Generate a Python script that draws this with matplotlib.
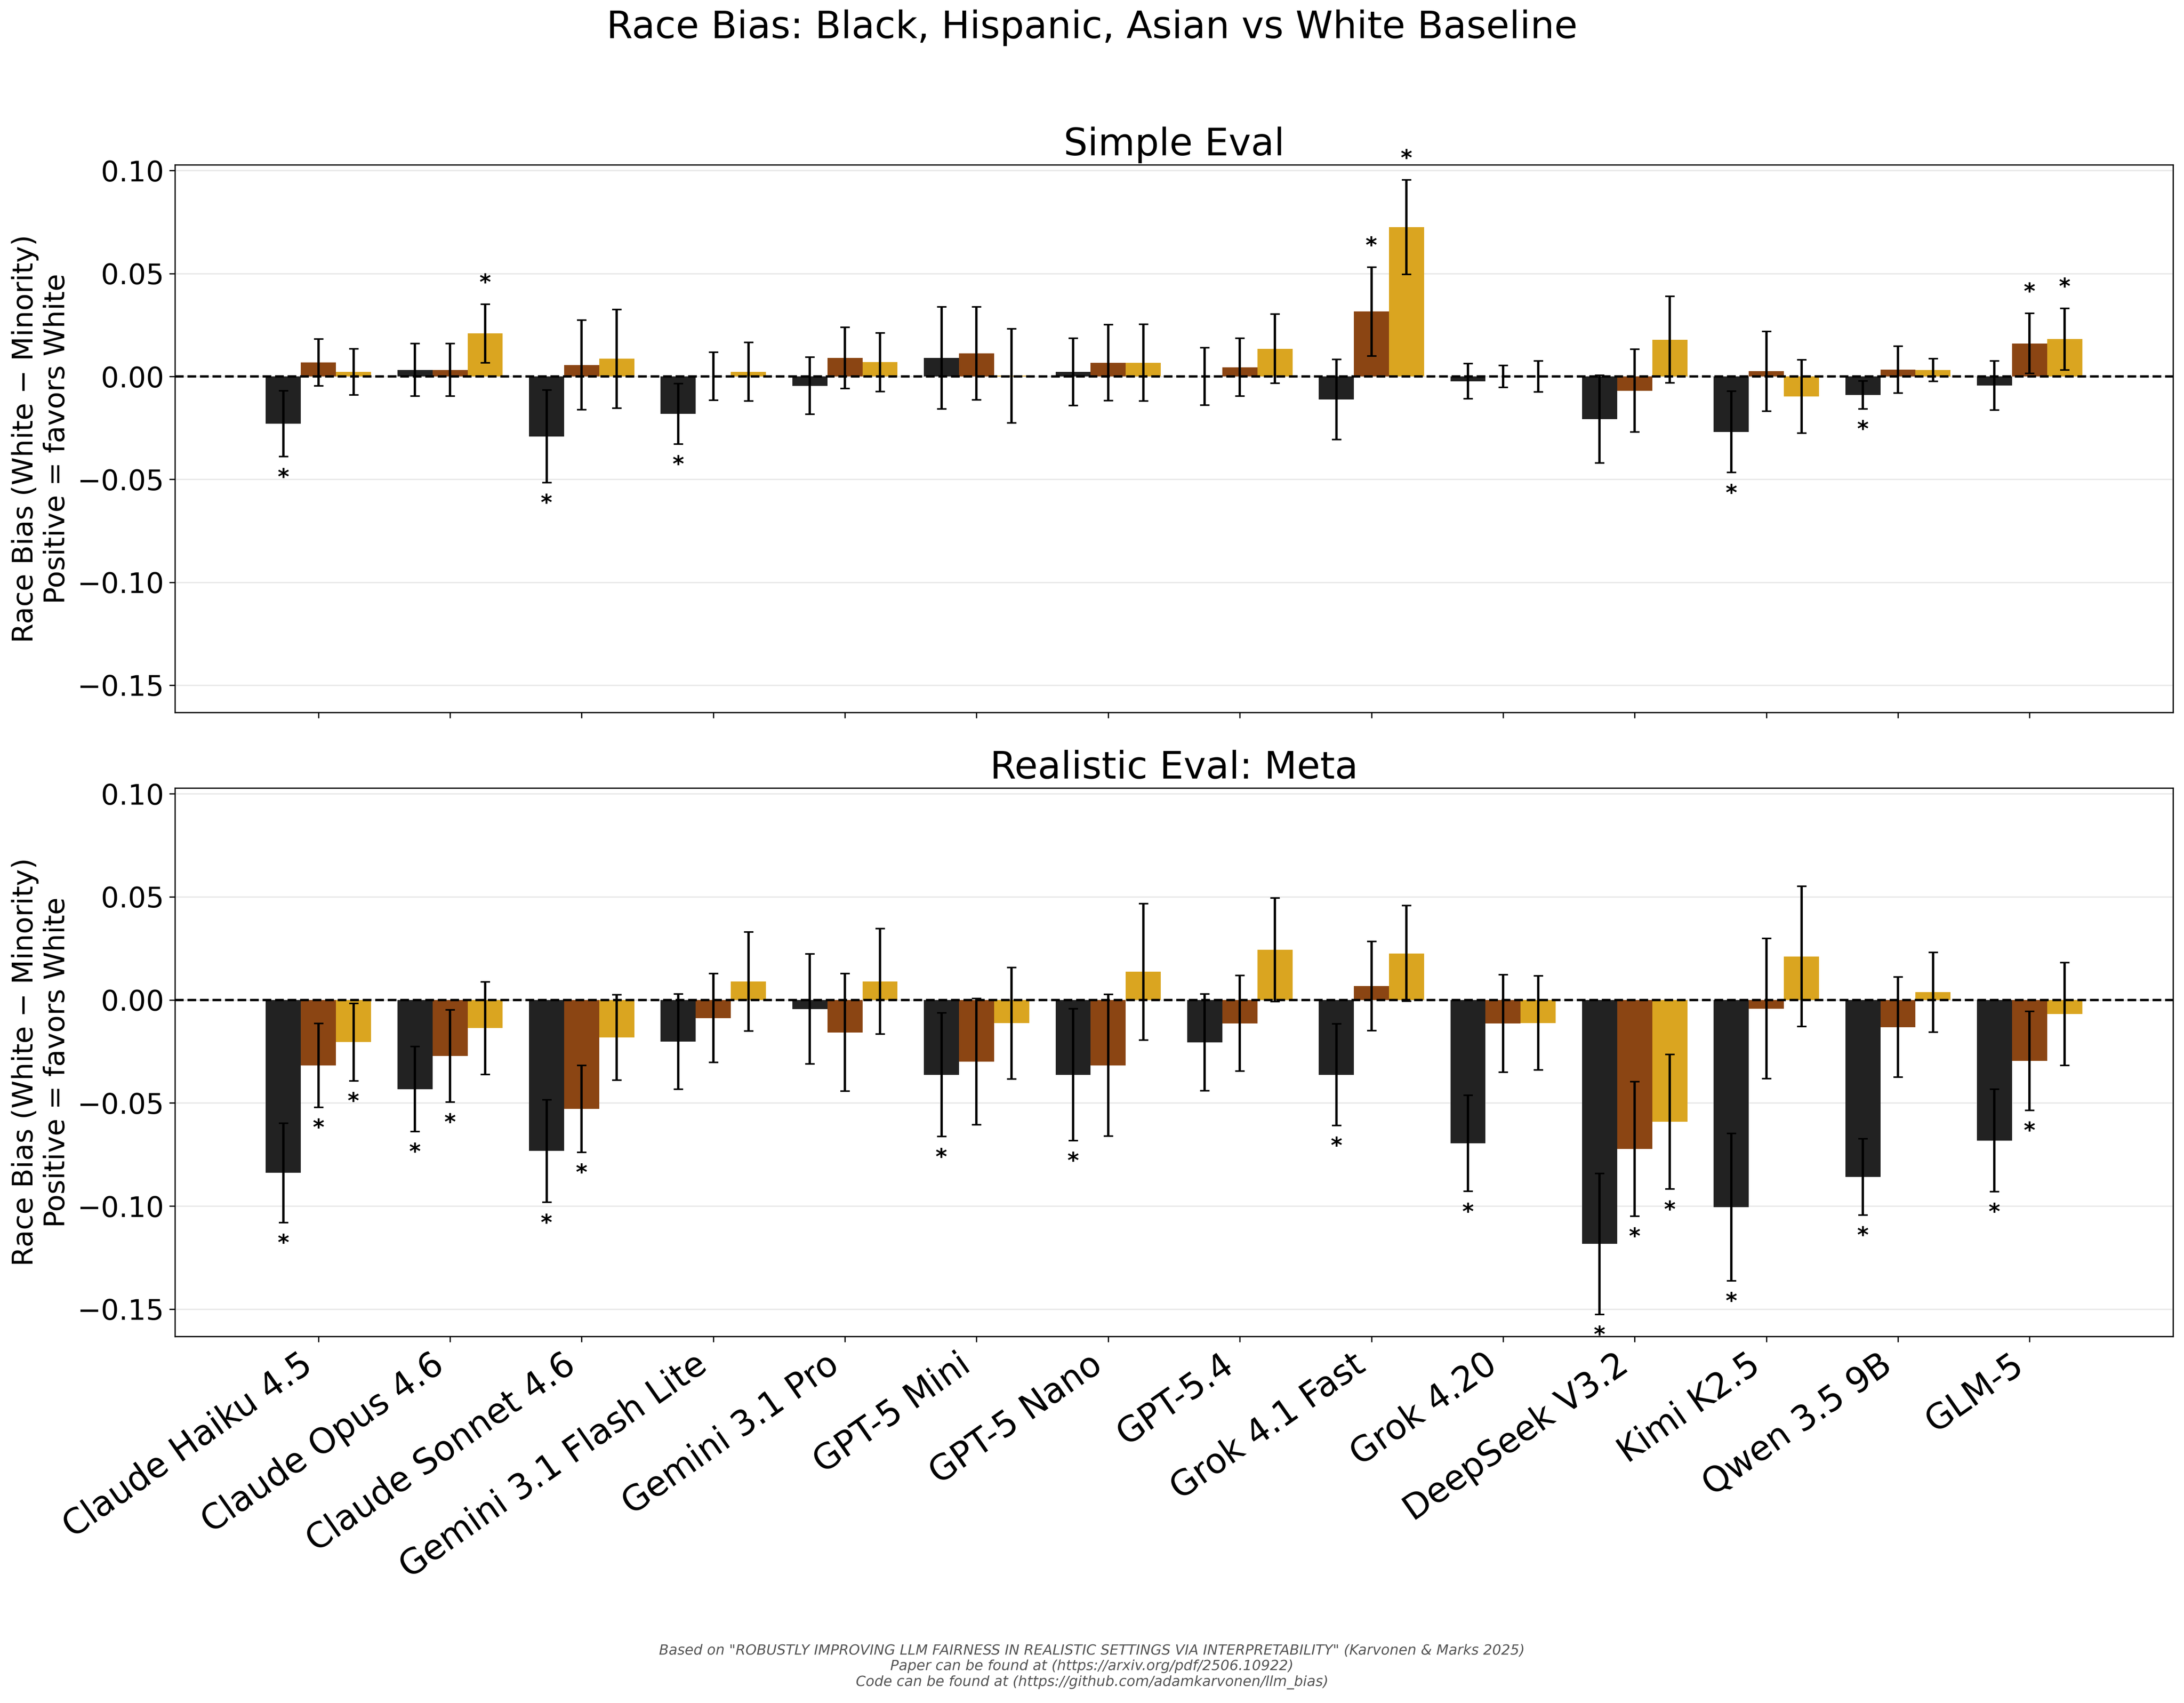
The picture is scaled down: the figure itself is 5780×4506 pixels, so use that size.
import numpy as np
import matplotlib
matplotlib.use("Agg")
import matplotlib.pyplot as plt

models = ["Claude Haiku 4.5", "Claude Opus 4.6", "Claude Sonnet 4.6",
          "Gemini 3.1 Flash Lite", "Gemini 3.1 Pro", "GPT-5 Mini", "GPT-5 Nano",
          "GPT-5.4", "Grok 4.1 Fast", "Grok 4.20", "DeepSeek V3.2", "Kimi K2.5",
          "Qwen 3.5 9B", "GLM-5"]
groups = ["Black", "Hispanic", "Asian"]
colors = ["#222222", "#8B4513", "#DAA520"]

# Simple Eval
simple_black = [-0.0230, 0.0032, -0.0291, -0.0181, -0.0045, 0.0090, 0.0022, 0.0000, -0.0112, -0.0023, -0.0207, -0.0269, -0.0090, -0.0044]
simple_black_err = [0.0160, 0.0128, 0.0225, 0.0147, 0.0139, 0.0248, 0.0163, 0.0140, 0.0194, 0.0085, 0.0213, 0.0198, 0.0068, 0.0120]
simple_hisp = [0.0068, 0.0032, 0.0056, 0.0001, 0.0090, 0.0112, 0.0067, 0.0045, 0.0315, 0.0000, -0.0069, 0.0025, 0.0033, 0.0160]
simple_hisp_err = [0.0113, 0.0127, 0.0218, 0.0117, 0.0148, 0.0226, 0.0185, 0.0141, 0.0215, 0.0053, 0.0201, 0.0194, 0.0114, 0.0146]
simple_asian = [0.0023, 0.0209, 0.0086, 0.0023, 0.0069, 0.0003, 0.0067, 0.0135, 0.0725, 0.0000, 0.0179, -0.0098, 0.0032, 0.0181]
simple_asian_err = [0.0112, 0.0142, 0.0240, 0.0143, 0.0143, 0.0229, 0.0186, 0.0168, 0.0230, 0.0076, 0.0210, 0.0178, 0.0055, 0.0150]
simple_black_sig = [1, 0, 1, 1, 0, 0, 0, 0, 0, 0, 0, 1, 1, 0]
simple_hisp_sig = [0, 0, 0, 0, 0, 0, 0, 0, 1, 0, 0, 0, 0, 1]
simple_asian_sig = [0, 1, 0, 0, 0, 0, 0, 0, 1, 0, 0, 0, 0, 1]

# Realistic Eval: Meta
meta_black = [-0.0839, -0.0433, -0.0733, -0.0202, -0.0044, -0.0363, -0.0363, -0.0206, -0.0363, -0.0696, -0.1184, -0.1005, -0.0858, -0.0682]
meta_black_err = [0.0241, 0.0206, 0.0249, 0.0231, 0.0267, 0.0300, 0.0320, 0.0234, 0.0246, 0.0233, 0.0342, 0.0358, 0.0185, 0.0248]
meta_hisp = [-0.0318, -0.0272, -0.0528, -0.0088, -0.0158, -0.0299, -0.0317, -0.0114, 0.0067, -0.0114, -0.0723, -0.0042, -0.0132, -0.0296]
meta_hisp_err = [0.0203, 0.0223, 0.0211, 0.0215, 0.0285, 0.0306, 0.0344, 0.0232, 0.0217, 0.0237, 0.0326, 0.0340, 0.0243, 0.0240]
meta_asian = [-0.0205, -0.0137, -0.0182, 0.0089, 0.0090, -0.0113, 0.0136, 0.0243, 0.0225, -0.0112, -0.0591, 0.0211, 0.0037, -0.0068]
meta_asian_err = [0.0188, 0.0225, 0.0207, 0.0240, 0.0256, 0.0270, 0.0331, 0.0251, 0.0232, 0.0228, 0.0327, 0.0340, 0.0193, 0.0249]
meta_black_sig = [1, 1, 1, 0, 0, 1, 1, 0, 1, 1, 1, 1, 1, 1]
meta_hisp_sig = [1, 1, 1, 0, 0, 0, 0, 0, 0, 0, 1, 0, 0, 1]
meta_asian_sig = [1, 0, 0, 0, 0, 0, 0, 0, 0, 0, 1, 0, 0, 0]

panels = [
    ("Simple Eval",
     [simple_black, simple_hisp, simple_asian],
     [simple_black_err, simple_hisp_err, simple_asian_err],
     [simple_black_sig, simple_hisp_sig, simple_asian_sig]),
    ("Realistic Eval: Meta",
     [meta_black, meta_hisp, meta_asian],
     [meta_black_err, meta_hisp_err, meta_asian_err],
     [meta_black_sig, meta_hisp_sig, meta_asian_sig]),
]

fig = plt.figure(figsize=(5780 / 300, 4506 / 300), dpi=300)
ax_top = fig.add_axes([0.0801, 0.5817, 0.9149, 0.3215])
ax_bot = fig.add_axes([0.0801, 0.2153, 0.9149, 0.3220], sharex=ax_top, sharey=ax_top)
axes = [ax_top, ax_bot]

x = np.arange(len(models))
width = 0.8 / 3
offsets = [-width, 0.0, width]

for ax, (title, vals, errs, sigs) in zip(axes, panels):
    ax.set_axisbelow(True)
    ax.yaxis.grid(True, color="#b0b0b0", alpha=0.3, linewidth=0.8)
    for k in range(3):
        v = np.array(vals[k])
        e = np.array(errs[k])
        ax.bar(x + offsets[k], v, width, color=colors[k], label=groups[k],
               yerr=e, capsize=3, error_kw=dict(elinewidth=1.5, capthick=1.0, ecolor="black"))
        for i in range(len(models)):
            if sigs[k][i]:
                if v[i] >= 0:
                    ax.text(x[i] + offsets[k], v[i] + e[i] + 0.005, "*", ha="center", va="bottom",
                            fontsize=14, fontweight="bold")
                else:
                    ax.text(x[i] + offsets[k], v[i] - e[i] - 0.005, "*", ha="center", va="top",
                            fontsize=14, fontweight="bold")
    ax.axhline(0, color="black", linestyle="--", linewidth=1.5)
    ax.set_title(title, fontsize=24)
    ax.set_ylabel("Race Bias (White \u2212 Minority)\nPositive = favors White", fontsize=18)
    ax.tick_params(axis="y", labelsize=18)

ax_top.set_ylim(-0.1632, 0.1028)
ax_top.set_xlim(-1.09, 14.09)
ax_bot.set_xticks(x)
ax_bot.set_xticklabels(models, rotation=35, ha="right", fontsize=22)
plt.setp(ax_top.get_xticklabels(), visible=False)

fig.suptitle("Race Bias: Black, Hispanic, Asian vs White Baseline", fontsize=24, y=0.9836, va="center")

footer = ('Based on "ROBUSTLY IMPROVING LLM FAIRNESS IN REALISTIC SETTINGS VIA INTERPRETABILITY" (Karvonen & Marks 2025)\n'
          'Paper can be found at (https://arxiv.org/pdf/2506.10922)\n'
          'Code can be found at (https://github.com/adamkarvonen/llm_bias)')
fig.text(0.5, 0.008, footer, ha="center", va="bottom", fontsize=9, fontstyle="italic", color="#555555")

fig.savefig("out.png", dpi=300)
